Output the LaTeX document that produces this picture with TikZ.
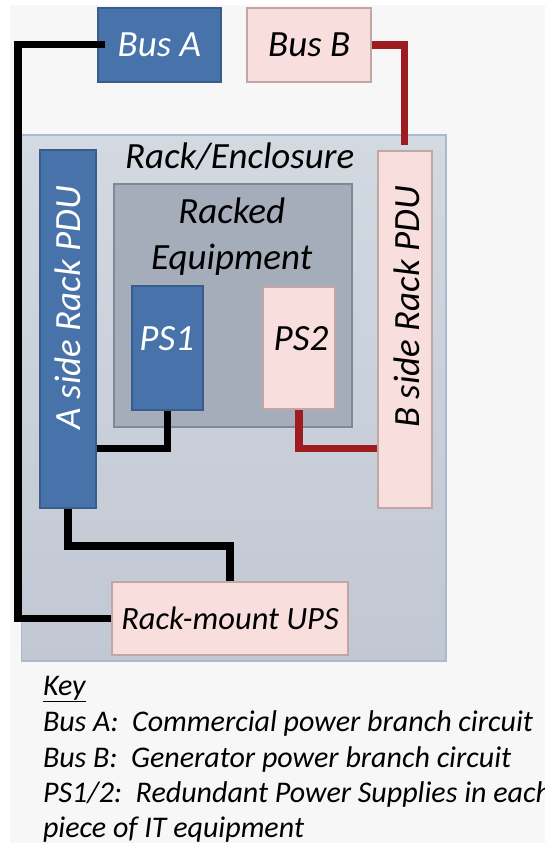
\documentclass[tikz,border=0pt]{standalone}
\usepackage{fontspec}
\setmainfont{Carlito}
\begin{document}
\begin{tikzpicture}[x=1pt,y=-1pt,
  labelfont/.style={font=\fontsize{37}{40}\selectfont\itshape},
  box/.style={draw, rectangle, inner sep=0pt, line width=1.8pt, labelfont},
  bluebox/.style={box, fill=boxblue, draw=boxblueline, text=white},
  pinkbox/.style={box, fill=boxpink, draw=boxpinkline, text=black},
  wireA/.style={line width=7.5pt, draw=black},
  wireB/.style={line width=7.5pt, draw=wirered},
  keytext/.style={anchor=base west, inner sep=0pt, font=\fontsize{30}{32}\selectfont\itshape}
]
\definecolor{boxblue}{HTML}{4873AA}
\definecolor{boxblueline}{HTML}{3A5C8A}
\definecolor{boxpink}{HTML}{F9DEDE}
\definecolor{boxpinkline}{HTML}{C2A6A6}
\definecolor{wirered}{HTML}{9E1B20}
\definecolor{racktop}{HTML}{D3D9E1}
\definecolor{rackbot}{HTML}{C2C8D3}
\definecolor{rackline}{HTML}{A9B9CE}
\definecolor{eqfill}{HTML}{A5ADBB}
\definecolor{eqline}{HTML}{7F8896}
\definecolor{bgfill}{HTML}{F7F7F7}

\useasboundingbox (0,0) rectangle (545,843);
\fill[white] (0,0) rectangle (545,843);
\fill[bgfill] (10,5) rectangle (545,843);

% rack enclosure
\node[draw=rackline, line width=1.3pt, top color=racktop, bottom color=rackbot,
      minimum width=424.3pt, minimum height=526pt, inner sep=0pt] (rack) at (233.8,398) {};
\node[inner sep=0pt, anchor=base, labelfont] (racklabel) at (239.7,168) {Rack/Enclosure};

% racked equipment
\node[draw=eqline, fill=eqfill, line width=1.8pt, minimum width=237.7pt, minimum height=242.7pt, inner sep=0pt] (eq) at (232.8,305.3) {};
\node[inner sep=0pt, anchor=base, labelfont] (eqlabel1) at (231.7,223.5) {Racked};
\node[inner sep=0pt, anchor=base, labelfont] (eqlabel2) at (231.7,269.5) {Equipment};

% buses
\node[bluebox, minimum width=123.3pt, minimum height=74pt] (busA) at (159.3,44.7) {Bus A};
\node[pinkbox, minimum width=123.7pt, minimum height=73.4pt] (busB) at (309.2,45) {Bus B};

% PDUs
\node[bluebox, minimum width=55.7pt, minimum height=358.3pt] (pduA) at (67.8,329.2) {};
\node[inner sep=0pt, rotate=90, text=white, labelfont] (pduAlabel) at (67.5,307.5) {A side Rack PDU};
\node[pinkbox, minimum width=54pt, minimum height=357.5pt] (pduB) at (404.7,329.5) {};
\node[inner sep=0pt, rotate=90, labelfont] (pduBlabel) at (406.7,306.7) {B side Rack PDU};

% power supplies
\node[bluebox, minimum width=71.6pt, minimum height=124.6pt] (ps1) at (167.5,348) {};
\node[inner sep=0pt, text=white, labelfont] (ps1label) at (166.7,339) {PS1};
\node[pinkbox, minimum width=71.7pt, minimum height=122.6pt] (ps2) at (299.2,348) {};
\node[inner sep=0pt, labelfont] (ps2label) at (301,339) {PS2};

% UPS
\node[pinkbox, minimum width=236.6pt, minimum height=72.7pt, font=\fontsize{32.5}{35}\selectfont\itshape] (ups) at (230,618.7) {Rack-mount UPS};

% connectors
\draw[wireA] ([xshift=8pt]busA.west) -- ++(-86.7,0) coordinate (a1) -- (a1 |- ups.west) -- (ups.west);
\draw[wireB, shorten >=5pt] (busB.east) -| (pduB.north);
\draw[wireA] (ps1.south) -- ++(0,37.2) coordinate (k1) -- (k1 -| pduA.east);
\draw[wireB] (ps2.south) -- ++(0,38.2) coordinate (k2) -- (k2 -| pduB.west);
\draw[wireA] (pduA.south) -- ++(0,36.7) -| (ups.north);

% key
\node[keytext] (key0) at (42.8,695) {\underline{Key}};
\node[keytext] (key1) at (42.8,731) {Bus A:\ \ Commercial power branch circuit};
\node[keytext] (key2) at (42.8,767) {Bus B:\ \ Generator power branch circuit};
\node[keytext] (key3) at (42.8,802) {PS1/2:\ \ Redundant Power Supplies in each};
\node[keytext] (key4) at (42.8,837) {piece of IT equipment};
\end{tikzpicture}
\end{document}
